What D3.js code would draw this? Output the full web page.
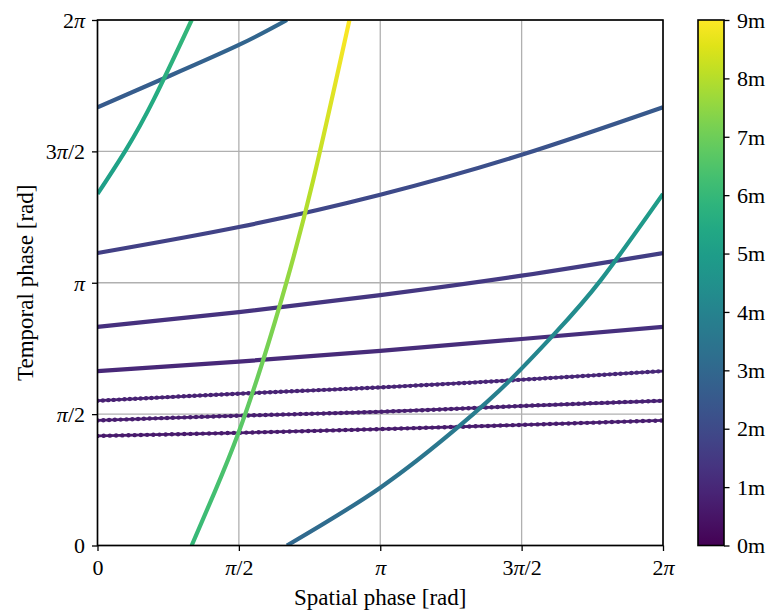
<!DOCTYPE html>
<html>
<head>
<meta charset="utf-8">
<script src="https://cdn.jsdelivr.net/npm/d3@7"></script>
<style>
  body { margin: 0; background: #fff; }
  text { font-family: "Liberation Serif", "DejaVu Serif", serif; fill: #000; }
</style>
</head>
<body>
<div id="chart"></div>
<script>
// phases are in units of pi, distance in metres
// one entry per visible piece of the wrapped curve
const spatial = [
  [0, 0.5, 1, 1.5, 2],
  [0, 0.5, 1, 1.5, 2],
  [0, 0.5, 1, 1.5, 2],
  [0, 0.5, 1, 1.5, 2],
  [0, 0.5, 1, 1.5, 2],
  [0, 0.5, 1, 1.5, 2],
  [0, 0.25, 0.5, 0.67],
  [0.67, 1.0, 1.28, 1.46, 1.62, 1.78, 2],
  [0, 0.1, 0.2, 0.333],
  [0.333, 0.415, 0.498, 0.586, 0.669, 0.763, 0.891]
];
const temporal = [
  [0.417, 0.429, 0.443, 0.459, 0.476],
  [0.476, 0.494, 0.509, 0.531, 0.551],
  [0.551, 0.578, 0.602, 0.631, 0.664],
  [0.664, 0.700, 0.741, 0.786, 0.832],
  [0.832, 0.888, 0.953, 1.027, 1.113],
  [1.113, 1.212, 1.335, 1.487, 1.668],
  [1.668, 1.785, 1.905, 2.0],
  [0, 0.22, 0.455, 0.63, 0.81, 1.01, 1.338],
  [1.338, 1.505, 1.70, 2.0],
  [0, 0.205, 0.427, 0.706, 1.004, 1.391, 2.0]
];
const distance = [
  [0.63, 0.64, 0.66, 0.69, 0.71],
  [0.71, 0.74, 0.76, 0.80, 0.83],
  [0.83, 0.87, 0.90, 0.95, 1.0],
  [1.0, 1.05, 1.11, 1.18, 1.25],
  [1.25, 1.33, 1.43, 1.54, 1.67],
  [1.67, 1.82, 2.0, 2.23, 2.5],
  [2.5, 2.68, 2.86, 3.0],
  [3.0, 3.33, 3.68, 3.95, 4.22, 4.52, 5.0],
  [5.0, 5.26, 5.55, 6.0],
  [6.0, 6.31, 6.64, 7.06, 7.51, 8.09, 9.0]
];

const phaseTicks = [0, 0.5, 1, 1.5, 2];
const phaseTickLabels = ["0", "π/2", "π", "3π/2", "2π"];
const distTicks = [0, 1, 2, 3, 4, 5, 6, 7, 8, 9];
const distTickLabels = ["0m", "1m", "2m", "3m", "4m", "5m", "6m", "7m", "8m", "9m"];

const width = 770, height = 611;
const pLeft = 97.5, pRight = 663, pTop = 20, pBottom = 545.5;
const cbLeft = 698, cbRight = 724;

const svg = d3.select("#chart").append("svg")
  .attr("width", width)
  .attr("height", height);
const defs = svg.append("defs");

const x = d3.scaleLinear().domain([0, 2]).range([pLeft, pRight]);
const y = d3.scaleLinear().domain([0, 2]).range([pBottom, pTop]);
const color = d3.scaleSequential(d3.interpolateViridis).domain([0, 9]);
const cbY = d3.scaleLinear().domain([0, 9]).range([pBottom, pTop]);

// write a label, italic pi
function piLabel(sel, label) {
  sel.text(null);
  const parts = label.split("π");
  parts.forEach((p, i) => {
    if (p) sel.append("tspan").text(p);
    if (i < parts.length - 1) sel.append("tspan").attr("font-style", "italic").text("π");
  });
}

// grid
svg.append("g").selectAll("line").data(phaseTicks).join("line")
  .attr("x1", d => x(d)).attr("x2", d => x(d))
  .attr("y1", pTop).attr("y2", pBottom)
  .attr("stroke", "#b0b0b0").attr("stroke-width", 1.3);
svg.append("g").selectAll("line").data(phaseTicks).join("line")
  .attr("y1", d => y(d)).attr("y2", d => y(d))
  .attr("x1", pLeft).attr("x2", pRight)
  .attr("stroke", "#b0b0b0").attr("stroke-width", 1.3);

// curves
svg.append("clipPath").attr("id", "plotclip").append("rect")
  .attr("x", pLeft).attr("y", pTop).attr("width", pRight - pLeft).attr("height", pBottom - pTop);
const plot = svg.append("g").attr("clip-path", "url(#plotclip)");

const line = d3.line()
  .x(d => x(d[0]))
  .y(d => y(d[1]))
  .curve(d3.curveNatural);

spatial.forEach((xs, i) => {
  const pts = xs.map((v, k) => [v, temporal[i][k]]);
  const p0 = [x(pts[0][0]), y(pts[0][1])];
  const p1 = [x(pts[pts.length - 1][0]), y(pts[pts.length - 1][1])];
  const dx = p1[0] - p0[0], dy = p1[1] - p0[1];
  const len2 = dx * dx + dy * dy;
  const grad = defs.append("linearGradient")
    .attr("id", "g" + i)
    .attr("gradientUnits", "userSpaceOnUse")
    .attr("x1", p0[0]).attr("y1", p0[1])
    .attr("x2", p1[0]).attr("y2", p1[1]);
  pts.forEach((p, k) => {
    const off = ((x(p[0]) - p0[0]) * dx + (y(p[1]) - p0[1]) * dy) / len2;
    grad.append("stop")
      .attr("offset", Math.max(0, Math.min(1, off)))
      .attr("stop-color", color(distance[i][k]));
  });

  const dottedLine = i < 3;
  plot.append("path")
    .attr("d", line(pts))
    .attr("fill", "none")
    .attr("stroke", "url(#g" + i + ")")
    .attr("stroke-width", dottedLine ? 2.8 : 4.2);
  if (dottedLine) {
    plot.append("path")
      .attr("d", line(pts))
      .attr("fill", "none")
      .attr("stroke", "url(#g" + i + ")")
      .attr("stroke-width", 4.4)
      .attr("stroke-linecap", "round")
      .attr("stroke-dasharray", "0 " + (6.2 - i * 0.4));
  }
});

// axes
const xAxis = svg.append("g")
  .attr("transform", "translate(0," + pBottom + ")")
  .call(d3.axisBottom(x).tickValues(phaseTicks).tickSize(5.5).tickSizeOuter(0));
xAxis.select(".domain").remove();
xAxis.selectAll(".tick line").attr("stroke", "#000").attr("stroke-width", 1.3);
xAxis.selectAll(".tick text")
  .attr("y", 29.5).attr("dy", null)
  .attr("font-size", 22).attr("font-family", "Liberation Serif")
  .each(function(d, i) { piLabel(d3.select(this), phaseTickLabels[i]); });

const yAxis = svg.append("g")
  .attr("transform", "translate(" + pLeft + ",0)")
  .call(d3.axisLeft(y).tickValues(phaseTicks).tickSize(5.5).tickSizeOuter(0));
yAxis.select(".domain").remove();
yAxis.selectAll(".tick line").attr("stroke", "#000").attr("stroke-width", 1.3);
yAxis.selectAll(".tick text")
  .attr("x", -12.5).attr("dy", "0.33em")
  .attr("font-size", 22).attr("font-family", "Liberation Serif")
  .each(function(d, i) { piLabel(d3.select(this), phaseTickLabels[i]); });

// frame
svg.append("rect")
  .attr("x", pLeft).attr("y", pTop)
  .attr("width", pRight - pLeft).attr("height", pBottom - pTop)
  .attr("fill", "none").attr("stroke", "#000").attr("stroke-width", 1.6);

// axis titles
svg.append("text")
  .attr("x", (pLeft + pRight) / 2).attr("y", 605)
  .attr("text-anchor", "middle").attr("font-size", 23)
  .text("Spatial phase [rad]");
svg.append("text")
  .attr("transform", "translate(33," + (pTop + pBottom) / 2 + ") rotate(-90)")
  .attr("text-anchor", "middle").attr("font-size", 23)
  .text("Temporal phase [rad]");

// colour bar
const cbGrad = defs.append("linearGradient")
  .attr("id", "cbgrad")
  .attr("x1", 0).attr("y1", 1).attr("x2", 0).attr("y2", 0);
d3.range(0, 1.0001, 0.05).forEach(t => {
  cbGrad.append("stop").attr("offset", t).attr("stop-color", d3.interpolateViridis(t));
});
svg.append("rect")
  .attr("x", cbLeft).attr("y", pTop)
  .attr("width", cbRight - cbLeft).attr("height", pBottom - pTop)
  .attr("fill", "url(#cbgrad)");
const cbAxis = svg.append("g")
  .attr("transform", "translate(" + cbRight + ",0)")
  .call(d3.axisRight(cbY).tickValues(distTicks).tickSize(5.5).tickSizeOuter(0));
cbAxis.select(".domain").remove();
cbAxis.selectAll(".tick line").attr("stroke", "#000").attr("stroke-width", 1.3);
cbAxis.selectAll(".tick text")
  .attr("x", 13).attr("dy", "0.33em")
  .attr("font-size", 22).attr("font-family", "Liberation Serif")
  .text((d, i) => distTickLabels[i]);
svg.append("rect")
  .attr("x", cbLeft).attr("y", pTop)
  .attr("width", cbRight - cbLeft).attr("height", pBottom - pTop)
  .attr("fill", "none").attr("stroke", "#000").attr("stroke-width", 1.6);
</script>
</body>
</html>
